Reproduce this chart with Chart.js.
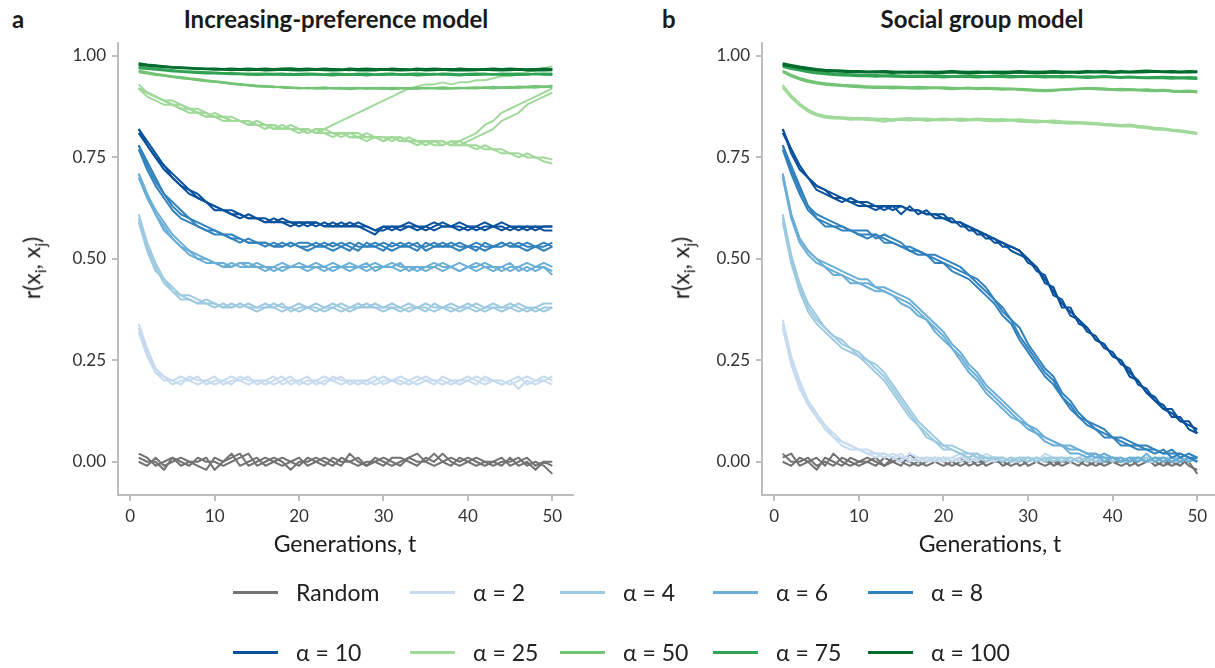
<!DOCTYPE html>
<html>
<head>
<meta charset="utf-8">
<title>r(xi, xj) over generations</title>
<script src="https://cdn.jsdelivr.net/npm/chart.js"></script>
<style>
  html, body { margin: 0; padding: 0; }
  body { width: 1215px; height: 668px; overflow: hidden; position: relative; background: #fff;
         font-family: Lato, "Noto Sans", sans-serif; color: #1a1a1a; }
  canvas { position: absolute; top: 0; }
  #chartA { left: 0; }
  #chartB { left: 645px; }
  .tag { position: absolute; top: 4px; font-size: 24px; font-weight: bold; }
  .title { position: absolute; top: 4px; font-size: 24px; font-weight: bold; transform: translateX(-50%); white-space: nowrap; }
  .xlab { position: absolute; top: 529px; font-size: 23px; transform: translateX(-50%); white-space: nowrap; }
  .ylab { position: absolute; top: 268px; font-size: 23px; white-space: nowrap; transform: translate(-50%, -50%) rotate(-90deg); }
  .ylab sub { font-size: 0.7em; }
  .key { position: absolute; display: flex; align-items: center; height: 26px; font-size: 23px; white-space: nowrap; color: #222; }
  .key i { display: inline-block; width: 45px; height: 3px; margin-right: 18px; }
</style>
</head>
<body>
<div class="tag" style="left:12px">a</div>
<div class="title" style="left:336px">Increasing-preference model</div>
<div class="tag" style="left:662px">b</div>
<div class="title" style="left:982px">Social group model</div>

<canvas id="chartA" width="600" height="560"></canvas>
<canvas id="chartB" width="590" height="560"></canvas>

<div class="ylab" style="left:33px">r(x<sub>i</sub>, x<sub>j</sub>)</div>
<div class="ylab" style="left:682px">r(x<sub>i</sub>, x<sub>j</sub>)</div>
<div class="xlab" style="left:345px">Generations, t</div>
<div class="xlab" style="left:990px">Generations, t</div>

<div id="legend"></div>

<script>
// generations on the x axis and the tick marks of both panels
const generations = [1, 2, 3, 4, 5, 6, 7, 8, 9, 10,
  11, 12, 13, 14, 15, 16, 17, 18, 19, 20,
  21, 22, 23, 24, 25, 26, 27, 28, 29, 30,
  31, 32, 33, 34, 35, 36, 37, 38, 39, 40,
  41, 42, 43, 44, 45, 46, 47, 48, 49, 50];
const xTicks = [0, 10, 20, 30, 40, 50];
const yTicks = [0, 0.25, 0.5, 0.75, 1];

const groupNames = ['Random', 'α = 2', 'α = 4', 'α = 6', 'α = 8',
  'α = 10', 'α = 25', 'α = 50', 'α = 75', 'α = 100'];

// ---- increasing-preference model: replicate runs per group ----
const incRandom = [
  [0.02, 0.01, -0.01, 0.00, 0.01, -0.01, 0.00, 0.00, 0.01, -0.02,
   0.00, 0.01, 0.02, -0.01, 0.00, 0.01, 0.00, -0.01, 0.00, 0.01,
   -0.01, 0.00, 0.01, 0.00, -0.01, 0.02, 0.00, -0.01, 0.00, 0.01,
   0.00, -0.01, 0.01, 0.00, 0.00, 0.02, 0.00, -0.01, 0.01, 0.00,
   -0.01, 0.00, 0.00, -0.01, 0.01, -0.01, 0.00, -0.02, 0.00, -0.01],
  [0.00, -0.01, 0.01, -0.01, 0.00, 0.01, 0.00, -0.01, -0.02, 0.01,
   0.00, 0.02, -0.01, 0.00, 0.01, -0.01, 0.00, 0.01, 0.00, -0.01,
   0.01, 0.00, -0.01, 0.01, 0.00, 0.00, 0.01, -0.01, 0.01, 0.00,
   -0.01, 0.00, 0.01, 0.02, 0.00, -0.01, 0.00, 0.01, 0.00, 0.01,
   0.00, -0.01, 0.00, 0.01, -0.01, 0.00, 0.01, -0.01, 0.00, 0.00],
  [0.01, 0.00, 0.00, -0.02, 0.01, 0.00, -0.01, 0.01, 0.00, 0.00,
   -0.01, 0.00, 0.01, 0.02, -0.01, 0.00, 0.01, 0.00, -0.02, 0.00,
   0.00, 0.01, 0.00, -0.01, 0.01, 0.00, -0.01, 0.00, 0.00, -0.01,
   0.01, 0.01, 0.00, -0.01, 0.01, 0.00, 0.02, 0.00, -0.01, 0.00,
   0.01, 0.00, -0.01, 0.00, 0.00, 0.01, -0.01, 0.00, -0.01, -0.03]
];
const incA2 = [
  [0.34, 0.28, 0.23, 0.21, 0.20, 0.19, 0.21, 0.20, 0.20, 0.19,
   0.20, 0.21, 0.20, 0.19, 0.20, 0.20, 0.21, 0.19, 0.20, 0.20,
   0.19, 0.20, 0.21, 0.20, 0.19, 0.20, 0.20, 0.19, 0.20, 0.21,
   0.20, 0.19, 0.20, 0.21, 0.20, 0.20, 0.19, 0.20, 0.20, 0.21,
   0.20, 0.19, 0.20, 0.20, 0.19, 0.20, 0.21, 0.20, 0.20, 0.21],
  [0.33, 0.27, 0.22, 0.20, 0.20, 0.21, 0.20, 0.19, 0.20, 0.21,
   0.19, 0.20, 0.20, 0.21, 0.19, 0.20, 0.19, 0.20, 0.21, 0.19,
   0.20, 0.20, 0.19, 0.21, 0.20, 0.20, 0.19, 0.20, 0.21, 0.19,
   0.20, 0.20, 0.19, 0.20, 0.21, 0.20, 0.20, 0.19, 0.20, 0.20,
   0.19, 0.21, 0.20, 0.19, 0.20, 0.21, 0.19, 0.20, 0.21, 0.20],
  [0.32, 0.26, 0.22, 0.21, 0.19, 0.20, 0.20, 0.21, 0.19, 0.20,
   0.20, 0.19, 0.21, 0.20, 0.20, 0.19, 0.20, 0.21, 0.19, 0.20,
   0.21, 0.19, 0.20, 0.20, 0.21, 0.19, 0.20, 0.20, 0.19, 0.20,
   0.20, 0.21, 0.20, 0.19, 0.20, 0.19, 0.21, 0.20, 0.19, 0.20,
   0.21, 0.20, 0.20, 0.19, 0.20, 0.18, 0.20, 0.19, 0.20, 0.19]
];
const incA4 = [
  [0.60, 0.53, 0.48, 0.44, 0.42, 0.41, 0.40, 0.39, 0.39, 0.38,
   0.39, 0.38, 0.39, 0.38, 0.38, 0.39, 0.38, 0.37, 0.38, 0.39,
   0.38, 0.38, 0.37, 0.38, 0.39, 0.38, 0.38, 0.39, 0.38, 0.37,
   0.38, 0.38, 0.39, 0.38, 0.38, 0.37, 0.38, 0.39, 0.38, 0.38,
   0.37, 0.38, 0.39, 0.38, 0.38, 0.37, 0.38, 0.38, 0.39, 0.39],
  [0.61, 0.54, 0.49, 0.45, 0.43, 0.41, 0.41, 0.40, 0.39, 0.39,
   0.38, 0.39, 0.38, 0.39, 0.38, 0.38, 0.39, 0.38, 0.38, 0.37,
   0.38, 0.39, 0.38, 0.38, 0.37, 0.38, 0.39, 0.38, 0.38, 0.38,
   0.39, 0.38, 0.37, 0.38, 0.39, 0.38, 0.38, 0.38, 0.37, 0.38,
   0.39, 0.38, 0.38, 0.37, 0.38, 0.39, 0.38, 0.37, 0.38, 0.38],
  [0.59, 0.52, 0.47, 0.45, 0.42, 0.40, 0.40, 0.39, 0.40, 0.39,
   0.38, 0.38, 0.39, 0.38, 0.37, 0.38, 0.38, 0.39, 0.37, 0.38,
   0.38, 0.37, 0.38, 0.39, 0.38, 0.37, 0.38, 0.38, 0.39, 0.38,
   0.38, 0.37, 0.38, 0.38, 0.37, 0.39, 0.38, 0.37, 0.38, 0.39,
   0.38, 0.37, 0.38, 0.38, 0.39, 0.38, 0.37, 0.38, 0.37, 0.38]
];
const incA6 = [
  [0.71, 0.66, 0.62, 0.59, 0.56, 0.54, 0.52, 0.51, 0.50, 0.49,
   0.49, 0.48, 0.49, 0.48, 0.48, 0.47, 0.48, 0.49, 0.48, 0.48,
   0.47, 0.48, 0.48, 0.49, 0.48, 0.47, 0.48, 0.48, 0.49, 0.48,
   0.48, 0.47, 0.48, 0.48, 0.47, 0.48, 0.49, 0.48, 0.47, 0.48,
   0.48, 0.49, 0.48, 0.47, 0.48, 0.48, 0.47, 0.48, 0.49, 0.48],
  [0.70, 0.65, 0.61, 0.58, 0.55, 0.53, 0.52, 0.50, 0.49, 0.49,
   0.48, 0.49, 0.48, 0.48, 0.49, 0.48, 0.47, 0.48, 0.48, 0.49,
   0.48, 0.48, 0.47, 0.48, 0.48, 0.49, 0.48, 0.47, 0.48, 0.48,
   0.49, 0.48, 0.48, 0.47, 0.48, 0.49, 0.48, 0.48, 0.47, 0.48,
   0.49, 0.48, 0.47, 0.48, 0.49, 0.47, 0.48, 0.47, 0.48, 0.47],
  [0.71, 0.66, 0.61, 0.57, 0.55, 0.53, 0.51, 0.50, 0.50, 0.49,
   0.48, 0.48, 0.49, 0.49, 0.48, 0.48, 0.48, 0.47, 0.48, 0.48,
   0.48, 0.49, 0.48, 0.47, 0.48, 0.48, 0.48, 0.49, 0.47, 0.48,
   0.48, 0.49, 0.47, 0.48, 0.48, 0.48, 0.47, 0.48, 0.49, 0.48,
   0.47, 0.48, 0.48, 0.48, 0.47, 0.48, 0.49, 0.48, 0.48, 0.46]
];
const incA8 = [
  [0.78, 0.73, 0.69, 0.66, 0.63, 0.61, 0.60, 0.58, 0.57, 0.56,
   0.56, 0.55, 0.55, 0.54, 0.54, 0.53, 0.54, 0.53, 0.54, 0.53,
   0.53, 0.54, 0.53, 0.52, 0.53, 0.54, 0.53, 0.53, 0.54, 0.53,
   0.52, 0.53, 0.54, 0.53, 0.53, 0.54, 0.53, 0.53, 0.52, 0.53,
   0.54, 0.53, 0.53, 0.54, 0.53, 0.53, 0.52, 0.53, 0.53, 0.54],
  [0.77, 0.72, 0.68, 0.65, 0.62, 0.60, 0.59, 0.58, 0.57, 0.57,
   0.56, 0.55, 0.54, 0.55, 0.54, 0.54, 0.53, 0.54, 0.53, 0.54,
   0.54, 0.53, 0.53, 0.54, 0.53, 0.52, 0.54, 0.53, 0.53, 0.54,
   0.53, 0.54, 0.53, 0.52, 0.54, 0.53, 0.53, 0.54, 0.53, 0.53,
   0.52, 0.54, 0.53, 0.53, 0.54, 0.53, 0.54, 0.53, 0.52, 0.53],
  [0.78, 0.74, 0.70, 0.66, 0.64, 0.62, 0.60, 0.59, 0.58, 0.57,
   0.56, 0.56, 0.55, 0.54, 0.54, 0.54, 0.53, 0.53, 0.54, 0.53,
   0.52, 0.53, 0.54, 0.53, 0.54, 0.53, 0.52, 0.54, 0.53, 0.52,
   0.54, 0.53, 0.53, 0.54, 0.52, 0.53, 0.54, 0.53, 0.54, 0.53,
   0.53, 0.52, 0.53, 0.54, 0.53, 0.54, 0.53, 0.53, 0.54, 0.53]
];
const incA10 = [
  [0.82, 0.79, 0.76, 0.73, 0.71, 0.69, 0.67, 0.65, 0.64, 0.63,
   0.62, 0.61, 0.61, 0.60, 0.60, 0.59, 0.60, 0.59, 0.59, 0.58,
   0.59, 0.59, 0.58, 0.58, 0.59, 0.58, 0.58, 0.57, 0.56, 0.58,
   0.58, 0.57, 0.58, 0.58, 0.57, 0.58, 0.59, 0.58, 0.57, 0.58,
   0.58, 0.57, 0.58, 0.58, 0.57, 0.58, 0.58, 0.57, 0.58, 0.58],
  [0.82, 0.78, 0.75, 0.72, 0.70, 0.68, 0.66, 0.65, 0.64, 0.62,
   0.62, 0.61, 0.60, 0.61, 0.60, 0.59, 0.59, 0.60, 0.59, 0.59,
   0.58, 0.59, 0.58, 0.59, 0.58, 0.58, 0.59, 0.58, 0.57, 0.57,
   0.58, 0.58, 0.58, 0.57, 0.58, 0.59, 0.58, 0.58, 0.58, 0.57,
   0.58, 0.59, 0.58, 0.57, 0.58, 0.57, 0.58, 0.58, 0.57, 0.57],
  [0.81, 0.78, 0.75, 0.73, 0.70, 0.68, 0.67, 0.66, 0.64, 0.63,
   0.62, 0.62, 0.61, 0.60, 0.60, 0.60, 0.59, 0.59, 0.58, 0.59,
   0.59, 0.58, 0.59, 0.58, 0.58, 0.59, 0.58, 0.58, 0.57, 0.58,
   0.57, 0.58, 0.59, 0.58, 0.58, 0.57, 0.58, 0.58, 0.59, 0.58,
   0.57, 0.58, 0.58, 0.59, 0.58, 0.58, 0.57, 0.58, 0.58, 0.58]
];
const incA25 = [
  [0.92, 0.91, 0.90, 0.89, 0.88, 0.87, 0.87, 0.86, 0.86, 0.85,
   0.85, 0.84, 0.84, 0.84, 0.83, 0.83, 0.83, 0.82, 0.83, 0.82,
   0.82, 0.81, 0.82, 0.81, 0.81, 0.81, 0.80, 0.81, 0.80, 0.80,
   0.80, 0.79, 0.80, 0.79, 0.79, 0.79, 0.79, 0.78, 0.79, 0.78,
   0.78, 0.77, 0.77, 0.76, 0.76, 0.76, 0.75, 0.75, 0.75, 0.745],
  [0.92, 0.90, 0.89, 0.88, 0.88, 0.87, 0.86, 0.86, 0.85, 0.86,
   0.85, 0.84, 0.84, 0.83, 0.84, 0.83, 0.82, 0.83, 0.82, 0.82,
   0.81, 0.82, 0.81, 0.81, 0.80, 0.81, 0.81, 0.80, 0.80, 0.79,
   0.80, 0.80, 0.79, 0.79, 0.78, 0.79, 0.79, 0.78, 0.78, 0.78,
   0.77, 0.78, 0.77, 0.77, 0.76, 0.75, 0.76, 0.75, 0.74, 0.735],
  [0.92, 0.91, 0.90, 0.89, 0.88, 0.87, 0.87, 0.86, 0.85, 0.85,
   0.84, 0.84, 0.84, 0.83, 0.83, 0.82, 0.83, 0.82, 0.82, 0.82,
   0.81, 0.82, 0.82, 0.83, 0.84, 0.85, 0.86, 0.87, 0.88, 0.89,
   0.90, 0.91, 0.92, 0.925, 0.93, 0.93, 0.935, 0.93, 0.935, 0.935,
   0.94, 0.94, 0.945, 0.95, 0.95, 0.955, 0.96, 0.965, 0.97, 0.975],
  [0.92, 0.91, 0.90, 0.89, 0.88, 0.88, 0.87, 0.86, 0.86, 0.85,
   0.85, 0.85, 0.84, 0.84, 0.83, 0.83, 0.83, 0.82, 0.82, 0.82,
   0.82, 0.81, 0.81, 0.81, 0.81, 0.80, 0.80, 0.80, 0.80, 0.80,
   0.79, 0.80, 0.79, 0.79, 0.79, 0.79, 0.78, 0.79, 0.79, 0.80,
   0.81, 0.83, 0.84, 0.86, 0.87, 0.88, 0.89, 0.90, 0.91, 0.92],
  [0.93, 0.91, 0.90, 0.89, 0.89, 0.88, 0.87, 0.87, 0.86, 0.85,
   0.85, 0.84, 0.84, 0.83, 0.84, 0.83, 0.82, 0.82, 0.82, 0.81,
   0.82, 0.81, 0.81, 0.80, 0.81, 0.80, 0.80, 0.79, 0.80, 0.79,
   0.80, 0.79, 0.79, 0.78, 0.79, 0.78, 0.78, 0.79, 0.78, 0.79,
   0.80, 0.81, 0.82, 0.84, 0.85, 0.86, 0.88, 0.89, 0.90, 0.91]
];
const incA50 = [
  [0.962, 0.958, 0.955, 0.951, 0.949, 0.946, 0.944, 0.941, 0.939, 0.937,
   0.934, 0.932, 0.930, 0.927, 0.926, 0.925, 0.923, 0.924, 0.921, 0.922,
   0.920, 0.921, 0.923, 0.920, 0.919, 0.921, 0.922, 0.920, 0.921, 0.919,
   0.922, 0.921, 0.920, 0.922, 0.920, 0.921, 0.923, 0.921, 0.920, 0.922,
   0.923, 0.921, 0.924, 0.922, 0.923, 0.925, 0.924, 0.926, 0.925, 0.926],
  [0.960, 0.957, 0.953, 0.951, 0.948, 0.945, 0.943, 0.940, 0.938, 0.936,
   0.934, 0.931, 0.929, 0.928, 0.925, 0.924, 0.925, 0.922, 0.921, 0.920,
   0.922, 0.919, 0.920, 0.921, 0.920, 0.918, 0.920, 0.921, 0.919, 0.920,
   0.918, 0.920, 0.921, 0.919, 0.921, 0.920, 0.919, 0.921, 0.922, 0.920,
   0.921, 0.922, 0.920, 0.922, 0.921, 0.922, 0.923, 0.922, 0.924, 0.923],
  [0.964, 0.960, 0.956, 0.953, 0.950, 0.948, 0.945, 0.943, 0.940, 0.938,
   0.936, 0.933, 0.931, 0.929, 0.927, 0.926, 0.924, 0.923, 0.923, 0.921,
   0.921, 0.922, 0.920, 0.921, 0.922, 0.920, 0.921, 0.919, 0.921, 0.922,
   0.920, 0.921, 0.919, 0.920, 0.922, 0.921, 0.920, 0.919, 0.921, 0.922,
   0.920, 0.923, 0.921, 0.923, 0.924, 0.922, 0.924, 0.925, 0.923, 0.927]
];
const incA75 = [
  [0.972, 0.970, 0.968, 0.966, 0.964, 0.962, 0.961, 0.960, 0.959, 0.958,
   0.957, 0.957, 0.956, 0.955, 0.956, 0.955, 0.954, 0.955, 0.956, 0.954,
   0.955, 0.954, 0.953, 0.955, 0.954, 0.955, 0.956, 0.954, 0.953, 0.955,
   0.954, 0.955, 0.953, 0.954, 0.955, 0.956, 0.954, 0.955, 0.954, 0.953,
   0.955, 0.956, 0.954, 0.955, 0.956, 0.954, 0.955, 0.956, 0.955, 0.956],
  [0.970, 0.968, 0.966, 0.964, 0.962, 0.961, 0.959, 0.958, 0.957, 0.957,
   0.956, 0.955, 0.955, 0.954, 0.953, 0.954, 0.955, 0.953, 0.954, 0.953,
   0.954, 0.955, 0.953, 0.952, 0.954, 0.953, 0.954, 0.952, 0.954, 0.953,
   0.955, 0.953, 0.954, 0.952, 0.953, 0.954, 0.955, 0.953, 0.952, 0.954,
   0.953, 0.954, 0.955, 0.953, 0.954, 0.953, 0.954, 0.955, 0.954, 0.953],
  [0.973, 0.971, 0.969, 0.967, 0.965, 0.963, 0.962, 0.961, 0.960, 0.959,
   0.958, 0.958, 0.957, 0.957, 0.956, 0.957, 0.956, 0.957, 0.955, 0.956,
   0.957, 0.956, 0.955, 0.957, 0.956, 0.955, 0.956, 0.957, 0.955, 0.956,
   0.957, 0.955, 0.956, 0.957, 0.956, 0.955, 0.957, 0.956, 0.955, 0.956,
   0.957, 0.956, 0.955, 0.957, 0.956, 0.957, 0.955, 0.956, 0.957, 0.956]
];
const incA100 = [
  [0.980, 0.978, 0.976, 0.974, 0.972, 0.971, 0.970, 0.969, 0.968, 0.968,
   0.967, 0.968, 0.967, 0.966, 0.967, 0.968, 0.966, 0.967, 0.966, 0.967,
   0.968, 0.967, 0.966, 0.967, 0.966, 0.965, 0.967, 0.966, 0.967, 0.968,
   0.966, 0.967, 0.966, 0.965, 0.967, 0.966, 0.967, 0.968, 0.967, 0.966,
   0.967, 0.966, 0.967, 0.968, 0.966, 0.967, 0.966, 0.967, 0.966, 0.967],
  [0.978, 0.976, 0.974, 0.972, 0.971, 0.970, 0.969, 0.968, 0.967, 0.966,
   0.966, 0.965, 0.966, 0.965, 0.966, 0.964, 0.965, 0.966, 0.965, 0.964,
   0.965, 0.966, 0.965, 0.964, 0.965, 0.966, 0.964, 0.965, 0.964, 0.966,
   0.965, 0.964, 0.965, 0.966, 0.964, 0.965, 0.966, 0.964, 0.965, 0.964,
   0.965, 0.966, 0.965, 0.964, 0.965, 0.966, 0.964, 0.965, 0.964, 0.965],
  [0.982, 0.979, 0.977, 0.975, 0.973, 0.972, 0.971, 0.970, 0.969, 0.969,
   0.968, 0.969, 0.968, 0.969, 0.968, 0.969, 0.968, 0.969, 0.970, 0.968,
   0.969, 0.968, 0.969, 0.968, 0.967, 0.969, 0.968, 0.969, 0.968, 0.967,
   0.969, 0.968, 0.967, 0.969, 0.968, 0.969, 0.968, 0.967, 0.969, 0.968,
   0.967, 0.968, 0.969, 0.968, 0.969, 0.968, 0.967, 0.968, 0.969, 0.968]
];

// ---- social group model ----
const socRandom = [
  [0.01, 0.02, -0.01, 0.00, 0.01, -0.01, 0.02, 0.00, -0.01, 0.00,
   0.01, 0.00, -0.01, 0.01, 0.00, -0.01, 0.00, 0.01, 0.00, -0.01,
   0.00, 0.01, -0.01, 0.00, 0.00, 0.01, 0.00, -0.01, 0.00, 0.01,
   0.00, -0.01, 0.00, 0.00, 0.01, 0.00, -0.01, 0.00, 0.01, 0.00,
   -0.01, 0.00, 0.01, 0.00, 0.00, -0.01, 0.00, 0.01, -0.01, -0.02],
  [0.00, -0.01, 0.01, 0.00, -0.02, 0.01, 0.00, -0.01, 0.01, 0.00,
   0.00, -0.01, 0.01, 0.00, -0.01, 0.02, 0.00, -0.01, 0.00, 0.01,
   0.00, -0.01, 0.00, 0.01, -0.01, 0.00, 0.00, 0.01, -0.01, 0.00,
   0.01, 0.00, 0.00, -0.01, 0.00, 0.01, 0.00, -0.01, 0.00, 0.00,
   0.01, -0.01, 0.00, 0.01, -0.01, 0.00, 0.00, -0.01, 0.01, 0.00],
  [0.02, 0.00, 0.00, 0.01, -0.01, 0.00, -0.01, 0.01, 0.00, -0.01,
   0.00, 0.01, -0.01, 0.00, 0.01, 0.00, -0.01, 0.00, 0.01, 0.00,
   -0.01, 0.00, 0.01, -0.01, 0.00, 0.01, -0.01, 0.00, 0.01, -0.01,
   0.00, 0.01, -0.01, 0.00, 0.00, -0.01, 0.01, 0.00, -0.01, 0.00,
   0.00, 0.01, -0.01, 0.00, 0.01, 0.00, -0.01, 0.00, 0.00, -0.03]
];
const socA2 = [
  [0.34, 0.25, 0.19, 0.15, 0.11, 0.09, 0.06, 0.05, 0.04, 0.03,
   0.02, 0.02, 0.01, 0.02, 0.01, 0.01, 0.00, 0.01, 0.01, 0.00,
   0.01, 0.02, 0.00, 0.01, 0.01, 0.00, 0.01, 0.00, 0.01, 0.01,
   0.00, 0.02, 0.01, 0.00, 0.01, 0.00, 0.01, 0.01, 0.00, 0.01,
   0.00, 0.01, 0.00, 0.01, 0.01, 0.00, 0.01, 0.00, 0.01, 0.00],
  [0.33, 0.24, 0.18, 0.14, 0.11, 0.08, 0.06, 0.04, 0.03, 0.03,
   0.02, 0.01, 0.02, 0.01, 0.00, 0.02, 0.01, 0.00, 0.01, 0.01,
   0.00, 0.01, 0.01, 0.00, 0.02, 0.01, 0.00, 0.01, 0.01, 0.00,
   0.01, 0.01, 0.00, 0.01, 0.00, 0.01, 0.02, 0.00, 0.01, 0.01,
   0.00, 0.01, 0.01, 0.00, 0.00, 0.01, 0.00, 0.01, 0.00, 0.01],
  [0.35, 0.26, 0.20, 0.15, 0.12, 0.09, 0.07, 0.05, 0.04, 0.03,
   0.03, 0.02, 0.02, 0.01, 0.02, 0.00, 0.01, 0.01, 0.00, 0.01,
   0.01, 0.00, 0.01, 0.02, 0.00, 0.01, 0.01, 0.00, 0.00, 0.01,
   0.01, 0.00, 0.01, 0.01, 0.00, 0.01, 0.00, 0.01, 0.02, 0.00,
   0.01, 0.00, 0.01, 0.00, 0.01, 0.00, 0.01, 0.01, 0.00, 0.01]
];
const socA4 = [
  [0.60, 0.50, 0.43, 0.38, 0.35, 0.33, 0.31, 0.29, 0.28, 0.26,
   0.25, 0.23, 0.21, 0.18, 0.15, 0.12, 0.09, 0.07, 0.05, 0.04,
   0.03, 0.02, 0.02, 0.01, 0.01, 0.01, 0.00, 0.01, 0.00, 0.01,
   0.00, 0.01, 0.01, 0.00, 0.01, 0.00, 0.01, 0.00, 0.00, 0.01,
   0.00, 0.01, 0.00, 0.01, 0.00, 0.01, 0.00, 0.00, 0.01, 0.00],
  [0.59, 0.49, 0.42, 0.37, 0.34, 0.32, 0.30, 0.28, 0.27, 0.26,
   0.24, 0.22, 0.20, 0.17, 0.14, 0.11, 0.09, 0.06, 0.05, 0.03,
   0.03, 0.02, 0.01, 0.02, 0.00, 0.01, 0.01, 0.00, 0.01, 0.00,
   0.01, 0.00, 0.01, 0.01, 0.00, 0.01, 0.00, 0.01, 0.01, 0.00,
   0.01, 0.00, 0.01, 0.00, 0.01, 0.00, 0.01, 0.01, 0.00, 0.01],
  [0.61, 0.51, 0.44, 0.39, 0.36, 0.33, 0.31, 0.30, 0.28, 0.27,
   0.25, 0.24, 0.22, 0.19, 0.16, 0.13, 0.10, 0.08, 0.06, 0.04,
   0.04, 0.03, 0.02, 0.02, 0.01, 0.01, 0.01, 0.00, 0.01, 0.01,
   0.00, 0.01, 0.00, 0.01, 0.01, 0.00, 0.01, 0.00, 0.01, 0.01,
   0.00, 0.00, 0.01, 0.01, 0.00, 0.01, 0.01, 0.00, 0.01, 0.01]
];
const socA6 = [
  [0.71, 0.61, 0.55, 0.52, 0.50, 0.48, 0.47, 0.46, 0.45, 0.44,
   0.44, 0.43, 0.42, 0.41, 0.40, 0.39, 0.37, 0.35, 0.33, 0.31,
   0.28, 0.26, 0.23, 0.21, 0.18, 0.16, 0.14, 0.12, 0.10, 0.09,
   0.07, 0.06, 0.05, 0.04, 0.03, 0.03, 0.02, 0.02, 0.01, 0.01,
   0.01, 0.00, 0.01, 0.00, 0.01, 0.00, 0.01, 0.00, 0.01, 0.00],
  [0.70, 0.60, 0.54, 0.51, 0.49, 0.48, 0.46, 0.46, 0.44, 0.44,
   0.43, 0.42, 0.42, 0.41, 0.39, 0.38, 0.36, 0.35, 0.32, 0.30,
   0.28, 0.25, 0.22, 0.20, 0.17, 0.15, 0.13, 0.11, 0.10, 0.08,
   0.07, 0.05, 0.04, 0.04, 0.02, 0.02, 0.01, 0.02, 0.00, 0.01,
   0.00, 0.01, 0.00, 0.02, 0.00, 0.01, 0.00, 0.01, 0.00, 0.01],
  [0.71, 0.61, 0.55, 0.52, 0.50, 0.49, 0.48, 0.47, 0.46, 0.45,
   0.45, 0.43, 0.43, 0.42, 0.41, 0.40, 0.38, 0.36, 0.34, 0.32,
   0.29, 0.27, 0.24, 0.22, 0.19, 0.17, 0.15, 0.13, 0.11, 0.09,
   0.08, 0.06, 0.05, 0.04, 0.04, 0.03, 0.02, 0.01, 0.02, 0.01,
   0.00, 0.01, 0.01, 0.00, 0.01, 0.01, 0.00, 0.01, 0.02, 0.01]
];
const socA8 = [
  [0.78, 0.72, 0.67, 0.63, 0.60, 0.59, 0.58, 0.58, 0.57, 0.56,
   0.56, 0.56, 0.55, 0.54, 0.53, 0.53, 0.52, 0.51, 0.50, 0.49,
   0.48, 0.47, 0.46, 0.44, 0.42, 0.40, 0.37, 0.35, 0.31, 0.28,
   0.25, 0.22, 0.20, 0.16, 0.14, 0.11, 0.10, 0.08, 0.07, 0.06,
   0.05, 0.04, 0.04, 0.03, 0.03, 0.02, 0.02, 0.02, 0.01, 0.01],
  [0.77, 0.71, 0.66, 0.62, 0.60, 0.58, 0.58, 0.57, 0.57, 0.56,
   0.55, 0.56, 0.54, 0.54, 0.53, 0.52, 0.51, 0.51, 0.49, 0.49,
   0.47, 0.46, 0.45, 0.43, 0.41, 0.39, 0.36, 0.34, 0.30, 0.27,
   0.24, 0.21, 0.19, 0.16, 0.13, 0.11, 0.09, 0.08, 0.06, 0.06,
   0.04, 0.04, 0.03, 0.03, 0.02, 0.03, 0.01, 0.02, 0.01, 0.00],
  [0.78, 0.73, 0.68, 0.63, 0.61, 0.60, 0.59, 0.58, 0.57, 0.57,
   0.57, 0.55, 0.56, 0.55, 0.54, 0.52, 0.52, 0.51, 0.51, 0.50,
   0.49, 0.48, 0.46, 0.45, 0.43, 0.40, 0.38, 0.35, 0.33, 0.29,
   0.26, 0.23, 0.21, 0.17, 0.15, 0.12, 0.10, 0.09, 0.08, 0.06,
   0.06, 0.05, 0.04, 0.04, 0.03, 0.02, 0.03, 0.01, 0.02, 0.01]
];
const socA10 = [
  [0.82, 0.77, 0.73, 0.70, 0.68, 0.67, 0.66, 0.65, 0.64, 0.64,
   0.63, 0.63, 0.63, 0.62, 0.63, 0.62, 0.62, 0.61, 0.61, 0.60,
   0.59, 0.59, 0.58, 0.57, 0.56, 0.55, 0.54, 0.53, 0.52, 0.50,
   0.48, 0.45, 0.42, 0.39, 0.37, 0.35, 0.33, 0.30, 0.29, 0.26,
   0.25, 0.22, 0.20, 0.17, 0.16, 0.13, 0.12, 0.10, 0.09, 0.08],
  [0.82, 0.76, 0.72, 0.70, 0.67, 0.66, 0.65, 0.65, 0.64, 0.63,
   0.63, 0.62, 0.63, 0.63, 0.61, 0.63, 0.61, 0.62, 0.60, 0.60,
   0.60, 0.58, 0.58, 0.56, 0.56, 0.54, 0.54, 0.52, 0.51, 0.50,
   0.47, 0.46, 0.41, 0.40, 0.36, 0.35, 0.32, 0.31, 0.28, 0.27,
   0.24, 0.23, 0.19, 0.18, 0.15, 0.14, 0.11, 0.11, 0.08, 0.07],
  [0.81, 0.77, 0.73, 0.70, 0.68, 0.67, 0.65, 0.64, 0.65, 0.64,
   0.64, 0.63, 0.62, 0.63, 0.63, 0.62, 0.62, 0.61, 0.61, 0.61,
   0.59, 0.59, 0.57, 0.57, 0.55, 0.55, 0.53, 0.53, 0.52, 0.49,
   0.48, 0.44, 0.43, 0.38, 0.38, 0.34, 0.33, 0.30, 0.29, 0.26,
   0.25, 0.21, 0.20, 0.17, 0.15, 0.13, 0.13, 0.10, 0.10, 0.07]
];
const socA25 = [
  [0.925, 0.900, 0.880, 0.866, 0.856, 0.851, 0.848, 0.847, 0.846, 0.848,
   0.845, 0.846, 0.843, 0.840, 0.844, 0.845, 0.846, 0.844, 0.843, 0.845,
   0.844, 0.842, 0.843, 0.845, 0.844, 0.842, 0.841, 0.843, 0.842, 0.840,
   0.838, 0.837, 0.838, 0.836, 0.835, 0.836, 0.834, 0.833, 0.832, 0.830,
   0.828, 0.829, 0.826, 0.824, 0.821, 0.820, 0.817, 0.815, 0.812, 0.810],
  [0.922, 0.897, 0.878, 0.863, 0.853, 0.848, 0.846, 0.845, 0.843, 0.844,
   0.842, 0.841, 0.838, 0.842, 0.843, 0.841, 0.843, 0.840, 0.842, 0.841,
   0.843, 0.840, 0.841, 0.842, 0.840, 0.839, 0.840, 0.841, 0.838, 0.837,
   0.836, 0.838, 0.835, 0.834, 0.833, 0.834, 0.832, 0.831, 0.829, 0.828,
   0.826, 0.827, 0.824, 0.822, 0.819, 0.818, 0.815, 0.813, 0.810, 0.808],
  [0.928, 0.903, 0.883, 0.868, 0.858, 0.853, 0.850, 0.849, 0.848, 0.846,
   0.847, 0.845, 0.846, 0.844, 0.846, 0.847, 0.845, 0.846, 0.844, 0.846,
   0.845, 0.846, 0.844, 0.846, 0.845, 0.844, 0.845, 0.843, 0.844, 0.842,
   0.841, 0.840, 0.841, 0.839, 0.838, 0.837, 0.836, 0.835, 0.833, 0.832,
   0.830, 0.831, 0.828, 0.826, 0.823, 0.822, 0.819, 0.817, 0.814, 0.811]
];
const socA50 = [
  [0.962, 0.952, 0.944, 0.938, 0.934, 0.931, 0.929, 0.927, 0.926, 0.925,
   0.924, 0.923, 0.924, 0.922, 0.923, 0.922, 0.921, 0.922, 0.923, 0.921,
   0.920, 0.921, 0.922, 0.920, 0.921, 0.920, 0.919, 0.920, 0.918, 0.917,
   0.916, 0.914, 0.915, 0.917, 0.918, 0.919, 0.920, 0.921, 0.920, 0.918,
   0.917, 0.918, 0.917, 0.916, 0.915, 0.916, 0.914, 0.913, 0.914, 0.912],
  [0.960, 0.950, 0.942, 0.936, 0.932, 0.929, 0.927, 0.926, 0.924, 0.923,
   0.922, 0.921, 0.922, 0.920, 0.921, 0.920, 0.919, 0.920, 0.921, 0.919,
   0.918, 0.919, 0.920, 0.918, 0.919, 0.918, 0.917, 0.918, 0.916, 0.915,
   0.914, 0.913, 0.914, 0.916, 0.917, 0.918, 0.919, 0.918, 0.917, 0.916,
   0.915, 0.916, 0.915, 0.914, 0.913, 0.914, 0.912, 0.911, 0.912, 0.910],
  [0.964, 0.954, 0.946, 0.940, 0.936, 0.933, 0.931, 0.929, 0.928, 0.927,
   0.925, 0.925, 0.924, 0.925, 0.924, 0.923, 0.924, 0.923, 0.922, 0.923,
   0.922, 0.921, 0.922, 0.921, 0.922, 0.921, 0.920, 0.919, 0.919, 0.918,
   0.917, 0.916, 0.917, 0.918, 0.919, 0.920, 0.921, 0.920, 0.919, 0.918,
   0.919, 0.918, 0.917, 0.918, 0.916, 0.917, 0.915, 0.914, 0.915, 0.913]
];
const socA75 = [
  [0.975, 0.970, 0.966, 0.962, 0.959, 0.957, 0.955, 0.954, 0.953, 0.952,
   0.952, 0.951, 0.952, 0.951, 0.950, 0.951, 0.950, 0.951, 0.950, 0.949,
   0.950, 0.951, 0.950, 0.949, 0.950, 0.951, 0.950, 0.949, 0.950, 0.949,
   0.950, 0.951, 0.950, 0.949, 0.950, 0.949, 0.948, 0.949, 0.950, 0.949,
   0.948, 0.949, 0.948, 0.947, 0.948, 0.947, 0.946, 0.947, 0.946, 0.945],
  [0.973, 0.968, 0.964, 0.960, 0.957, 0.955, 0.953, 0.952, 0.951, 0.950,
   0.950, 0.949, 0.950, 0.949, 0.948, 0.949, 0.948, 0.949, 0.948, 0.947,
   0.948, 0.949, 0.948, 0.947, 0.948, 0.949, 0.948, 0.947, 0.948, 0.949,
   0.948, 0.947, 0.948, 0.947, 0.948, 0.947, 0.946, 0.947, 0.948, 0.947,
   0.946, 0.947, 0.946, 0.945, 0.946, 0.945, 0.944, 0.945, 0.944, 0.943],
  [0.977, 0.972, 0.968, 0.964, 0.961, 0.959, 0.957, 0.956, 0.955, 0.954,
   0.953, 0.953, 0.952, 0.953, 0.952, 0.951, 0.952, 0.951, 0.952, 0.951,
   0.950, 0.951, 0.952, 0.951, 0.950, 0.951, 0.952, 0.951, 0.950, 0.951,
   0.950, 0.949, 0.950, 0.951, 0.950, 0.949, 0.950, 0.949, 0.950, 0.949,
   0.948, 0.949, 0.948, 0.947, 0.948, 0.949, 0.948, 0.947, 0.948, 0.947]
];
const socA100 = [
  [0.980, 0.976, 0.972, 0.969, 0.967, 0.965, 0.964, 0.963, 0.962, 0.962,
   0.961, 0.962, 0.961, 0.960, 0.961, 0.960, 0.961, 0.960, 0.959, 0.960,
   0.961, 0.960, 0.959, 0.960, 0.959, 0.960, 0.961, 0.960, 0.959, 0.960,
   0.961, 0.960, 0.959, 0.960, 0.961, 0.960, 0.961, 0.962, 0.961, 0.960,
   0.961, 0.960, 0.961, 0.962, 0.963, 0.962, 0.961, 0.960, 0.961, 0.962],
  [0.978, 0.974, 0.970, 0.967, 0.965, 0.963, 0.962, 0.961, 0.960, 0.960,
   0.959, 0.960, 0.959, 0.958, 0.959, 0.958, 0.959, 0.958, 0.957, 0.958,
   0.959, 0.958, 0.957, 0.958, 0.959, 0.958, 0.957, 0.958, 0.959, 0.958,
   0.957, 0.958, 0.959, 0.958, 0.959, 0.958, 0.959, 0.960, 0.959, 0.958,
   0.959, 0.960, 0.959, 0.960, 0.961, 0.960, 0.959, 0.960, 0.959, 0.960],
  [0.982, 0.978, 0.974, 0.971, 0.968, 0.966, 0.965, 0.964, 0.963, 0.963,
   0.962, 0.962, 0.963, 0.962, 0.961, 0.962, 0.961, 0.962, 0.961, 0.962,
   0.963, 0.962, 0.961, 0.962, 0.961, 0.962, 0.961, 0.962, 0.963, 0.962,
   0.961, 0.962, 0.963, 0.962, 0.961, 0.962, 0.963, 0.962, 0.963, 0.962,
   0.963, 0.962, 0.963, 0.964, 0.963, 0.962, 0.963, 0.962, 0.963, 0.962]
];

const incGroups = [incRandom, incA2, incA4, incA6, incA8, incA10, incA25, incA50, incA75, incA100];
const socGroups = [socRandom, socA2, socA4, socA6, socA8, socA10, socA25, socA50, socA75, socA100];

// greys, Blues and Greens
const palette = ['#737373', '#c6dbef', '#9ecae1', '#6baed6', '#3182bd',
  '#08519c', '#a1d99b', '#74c476', '#31a354', '#006d2c'];

const axisGrey = '#bdbdbd';
const tickFont = { family: 'Lato, "Noto Sans", sans-serif', size: 17 };

function buildDatasets(groups) {
  const sets = [];
  groups.forEach((runs, g) => {
    runs.forEach(run => {
      sets.push({
        data: run.map((v, i) => ({ x: generations[i], y: v })),
        borderColor: palette[g],
        borderWidth: 2,
        borderJoinStyle: 'round',
        pointRadius: 0,
        tension: 0,
        fill: false,
        // later groups sit on top
        order: groups.length - g
      });
    });
  });
  return sets;
}

function panelOptions(yWidth, rightPad) {
  return {
    responsive: false,
    animation: false,
    events: [],
    layout: { padding: { top: 43, right: rightPad, bottom: 0, left: 0 } },
    plugins: { legend: { display: false }, tooltip: { enabled: false } },
    scales: {
      x: {
        type: 'linear',
        min: -1.45,
        max: 52.45,
        afterBuildTicks: axis => { axis.ticks = xTicks.map(v => ({ value: v })); },
        afterFit: axis => { axis.height = 65; },
        ticks: { font: tickFont, color: '#333', padding: 5, maxRotation: 0 },
        grid: { drawOnChartArea: false, tickLength: 6, color: axisGrey, lineWidth: 2 },
        border: { color: axisGrey, width: 2 }
      },
      y: {
        type: 'linear',
        min: -0.082,
        max: 1.032,
        afterBuildTicks: axis => { axis.ticks = yTicks.map(v => ({ value: v })); },
        afterFit: axis => { axis.width = yWidth; },
        ticks: { font: tickFont, color: '#333', padding: 6, callback: v => v.toFixed(2) },
        grid: { drawOnChartArea: false, tickLength: 6, color: axisGrey, lineWidth: 2 },
        border: { color: axisGrey, width: 2 }
      }
    }
  };
}

new Chart(document.getElementById('chartA'), {
  type: 'line',
  data: { datasets: buildDatasets(incGroups) },
  options: panelOptions(118, 27)
});

new Chart(document.getElementById('chartB'), {
  type: 'line',
  data: { datasets: buildDatasets(socGroups) },
  options: panelOptions(117, 17)
});

// legend below the panels, two rows of five
const keyLeft = [233, 410, 560, 713, 868];
const keyTop = [579, 639];
const legend = document.getElementById('legend');
groupNames.forEach((name, i) => {
  const key = document.createElement('div');
  key.className = 'key';
  key.style.left = keyLeft[i % 5] + 'px';
  key.style.top = keyTop[Math.floor(i / 5)] + 'px';
  key.innerHTML = '<i style="background:' + palette[i] + '"></i>' + name;
  legend.appendChild(key);
});
</script>
</body>
</html>
